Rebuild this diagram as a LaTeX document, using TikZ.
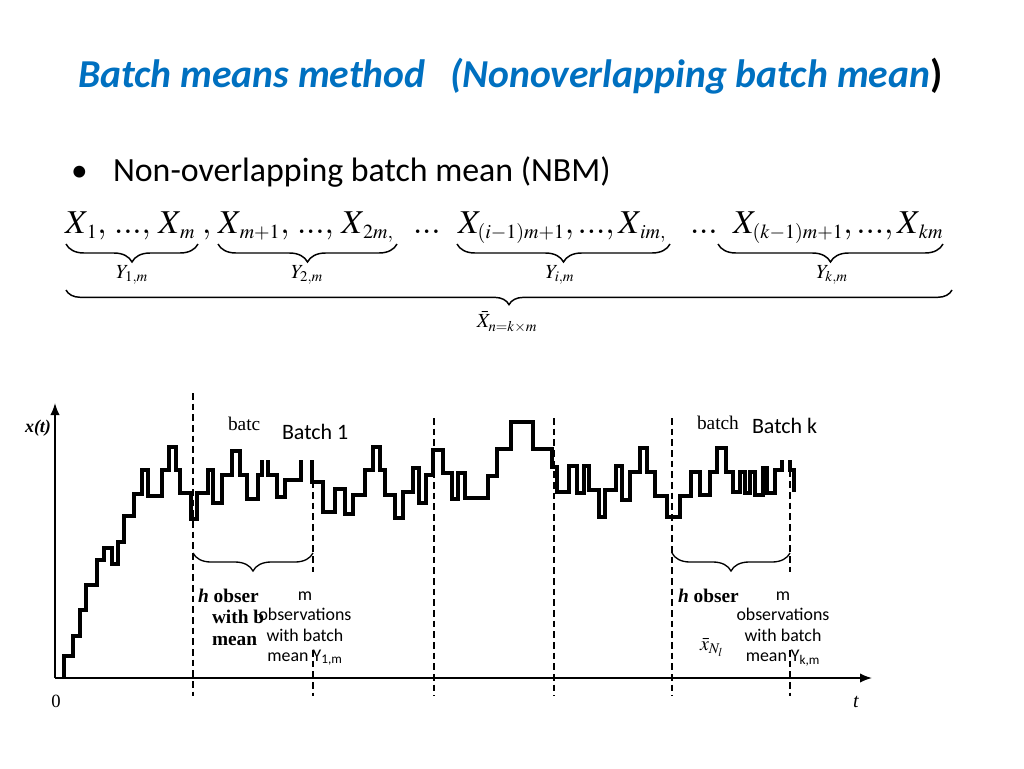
\documentclass[tikz,border=0pt]{standalone}
\usepackage{mathptmx}
\usepackage[no-math]{fontspec}
\setmainfont{Carlito}
\newfontfamily\tms{Liberation Serif}
\usetikzlibrary{decorations.pathreplacing,arrows.meta}
\definecolor{titleblue}{RGB}{0,112,192}
\DeclareMathSizes{25}{25}{15}{12}
\begin{document}
\begin{tikzpicture}[x=0.75pt,y=-0.75pt,
  every node/.style={inner sep=0pt,outer sep=0pt},
  brc/.style={decorate,decoration={brace,amplitude=#1},line width=1.1pt},
  fm/.style={anchor=base west,font=\fontsize{25}{30}\selectfont},
  ylab/.style={font=\fontsize{15}{18}\selectfont},
  curve/.style={line width=2.3pt,line join=miter},
  axis/.style={line width=1.2pt,-{Latex[length=9pt,width=7pt]}},
  dsh/.style={line width=1pt,dash pattern=on 5pt off 3pt},
  cal/.style={anchor=base,font=\fontsize{13.4}{16}\selectfont},
  bat/.style={anchor=base west,font=\fontsize{16.5}{20}\selectfont},
  ser/.style={anchor=base west,font=\tms\fontsize{14.5}{17}\selectfont\bfseries}]
\useasboundingbox (0,0) rectangle (1024,768);
% title
\node[anchor=base west,font=\fontsize{29.7}{35}\selectfont\bfseries\itshape,text=titleblue] (title) at (78,87)
  {Batch means method\hspace{0.62em}(Nonoverlapping batch mean\textcolor{black}{\upshape )}};
\node[anchor=base west,font=\fontsize{25}{30}\selectfont] (bul) at (71,181) {\textbullet};
\node[anchor=base west,font=\fontsize{25.4}{30}\selectfont] (sub) at (113,181) {Non-overlapping batch mean (NBM)};
% formula
\node[fm] (g1) at (65,233) {$X_{\,1},\,...,\,X_{\,m}$};
\node[fm] (c1) at (202,233) {$,$};
\node[fm] (g2) at (218,233) {$X_{\,m+1},\,...,\,X_{\,2m,}$};
\node[fm] (d1) at (413,233) {$...$};
\node[fm] (g3) at (458,233) {$X_{(i-1)m+1},...,X_{\,im,}$};
\node[fm] (d2) at (690,233) {$...$};
\node[fm] (g4) at (733,233) {$X_{(k-1)m+1},...,X_{\,km}$};
\coordinate (b1l) at (66,244); \coordinate (b1r) at (198,244);
\coordinate (b2l) at (218,244); \coordinate (b2r) at (397,244);
\coordinate (b3l) at (457,244); \coordinate (b3r) at (670,244);
\coordinate (b4l) at (718,244); \coordinate (b4r) at (943,244);
\coordinate (bbl) at (66,290); \coordinate (bbr) at (952,290);
\draw[brc=13.5pt] (b1r) -- (b1l);
\draw[brc=13.5pt] (b2r) -- (b2l);
\draw[brc=13.5pt] (b3r) -- (b3l);
\draw[brc=13.5pt] (b4r) -- (b4l);
\draw[brc=11pt] (bbr) -- (bbl);
\node[ylab] (y1) at (132,275) {$Y_{1,m}$};
\node[ylab] (y2) at (307,275) {$Y_{2,m}$};
\node[ylab] (yi) at (560,275) {$Y_{i,m}$};
\node[ylab] (yk) at (832,275) {$Y_{k,m}$};
\node[ylab] (xb) at (507,322) {$\bar{X}_{n=k\times m}$};
% axes
\coordinate (O) at (55,678);
\coordinate (ytop) at (55,403);
\coordinate (xend) at (872,678);
\draw[axis] (O) -- (ytop);
\draw[axis] (O) -- (xend);
\node[anchor=base west,font=\tms\fontsize{13.5}{16}\selectfont\bfseries\itshape] (xt) at (25,432) {x(t)};
\node[anchor=base,font=\tms\fontsize{14}{16}\selectfont] (zero) at (56,707) {0};
\node[anchor=base,font=\tms\fontsize{15}{18}\selectfont\itshape] (tl) at (856,707) {t};
% dashed separators
\draw[dsh] (193,393) -- (193,696);
\draw[dsh] (313,460) -- (313,572);
\draw[dsh] (313,650) -- (313,696);
\draw[dsh] (434,418) -- (434,696);
\draw[dsh] (554,418) -- (554,696);
\draw[dsh] (672,418) -- (672,696);
\draw[dsh] (790,460) -- (790,572);
\draw[dsh] (790,650) -- (790,696);
% step curve
\draw[curve] (64,678) -- (64,656) -- (73,656) -- (73,636) -- (80,636) -- (80,610) -- (86,610) -- (86,585) -- (97,585) -- (97,560) -- (104,560) -- (104,548) -- (112,548) -- (112,564) -- (118,564) -- (118,542) -- (124,542) -- (124,516) -- (134,516) -- (134,494) -- (142,494) -- (142,470) -- (148,470) -- (148,496) -- (162,496) -- (162,470) -- (169,470) -- (169,447) -- (176,447) -- (176,470) -- (180,470) -- (180,493) -- (191,493) -- (191,519) -- (197,519) -- (197,493) -- (208,493) -- (208,470) -- (213,470) -- (213,503) -- (222,503) -- (222,475) -- (232,475) -- (232,451) -- (240,451) -- (240,475) -- (247,475) -- (247,499) -- (258,499) -- (258,475) -- (262,475) -- (262,460);
\draw[curve] (268,460) -- (268,475) -- (277,475) -- (277,497) -- (285,497) -- (285,480) -- (301,480) -- (301,460);
\draw[curve] (312,460) -- (312,482) -- (323,482) -- (323,512) -- (335,512) -- (335,489) -- (345,489) -- (345,514) -- (353,514) -- (353,495) -- (365,495) -- (365,470) -- (373,470) -- (373,447) -- (380,447) -- (380,470) -- (385,470) -- (385,495) -- (395,495) -- (395,518) -- (403,518) -- (403,492) -- (413,492) -- (413,468) -- (419,468) -- (419,503) -- (426,503) -- (426,475) -- (433,475) -- (433,450) -- (443,450) -- (443,473) -- (452,473) -- (452,499) -- (458,499) -- (458,473) -- (465,473) -- (465,498) -- (488,498) -- (488,476) -- (497,476) -- (497,449) -- (511,449) -- (511,422) -- (533,422) -- (533,449) -- (552,449) -- (552,467) -- (557,467) -- (557,492) -- (569,492) -- (569,466) -- (577,466) -- (577,493) -- (584,493) -- (584,466) -- (589,466) -- (589,490) -- (599,490) -- (599,517) -- (605,517) -- (605,490) -- (616,490) -- (616,466) -- (622,466) -- (622,500) -- (630,500) -- (630,472) -- (640,472) -- (640,448) -- (647,448) -- (647,472) -- (655,472) -- (655,496) -- (667,496) -- (667,517) -- (680,517) -- (680,496) -- (691,496) -- (691,472) -- (700,472) -- (700,495) -- (710,495) -- (710,472) -- (717,472) -- (717,448) -- (726,448) -- (726,472) -- (733,472) -- (733,492) -- (740,492) -- (740,472) -- (745,472) -- (745,493) -- (750,493) -- (750,472) -- (755,472) -- (755,495) -- (763,495) -- (763,468) -- (767,468) -- (767,493) -- (775,493) -- (775,470) -- (782,470) -- (782,460);
\draw[curve] (790,460) -- (790,470) -- (794,470) -- (794,492);
% plot braces
\coordinate (p1l) at (193,553); \coordinate (p1r) at (313,553);
\coordinate (p2l) at (672,553); \coordinate (p2r) at (790,553);
\draw[brc=13.5pt,line width=1pt] (p1r) -- (p1l);
\draw[brc=13.5pt,line width=1pt] (p2r) -- (p2l);
% plot labels
\node[ser,font=\tms\fontsize{14.5}{17}\selectfont] (bt1) at (228,430) {batc};
\node[bat] (B1) at (282,439) {Batch 1};
\node[ser,font=\tms\fontsize{14.5}{17}\selectfont] (bt2) at (697,429) {batch};
\node[bat] (Bk) at (752,433) {Batch k};
\node[ser] (h1) at (198,602) {\textit{h} obser};
\node[ser] (w1) at (212,623) {with b};
\node[ser] (m1) at (212,645) {mean};
\node[ser] (h2) at (678,602) {\textit{h} obser};
\node[anchor=base west,font=\fontsize{15}{18}\selectfont] (xn) at (700,650) {$\bar{x}_{N_l}$};
\node[cal] (l1a) at (305,600) {m};
\node[cal] (l1b) at (305,620) {observations};
\node[cal] (l1c) at (305,641) {with batch};
\node[cal] (l1d) at (305,661) {mean Y\textsubscript{1,m}};
\node[cal] (l2a) at (783,600) {m};
\node[cal] (l2b) at (783,620) {observations};
\node[cal] (l2c) at (783,641) {with batch};
\node[cal] (l2d) at (783,661) {mean Y\textsubscript{k,m}};
\end{tikzpicture}
\end{document}
